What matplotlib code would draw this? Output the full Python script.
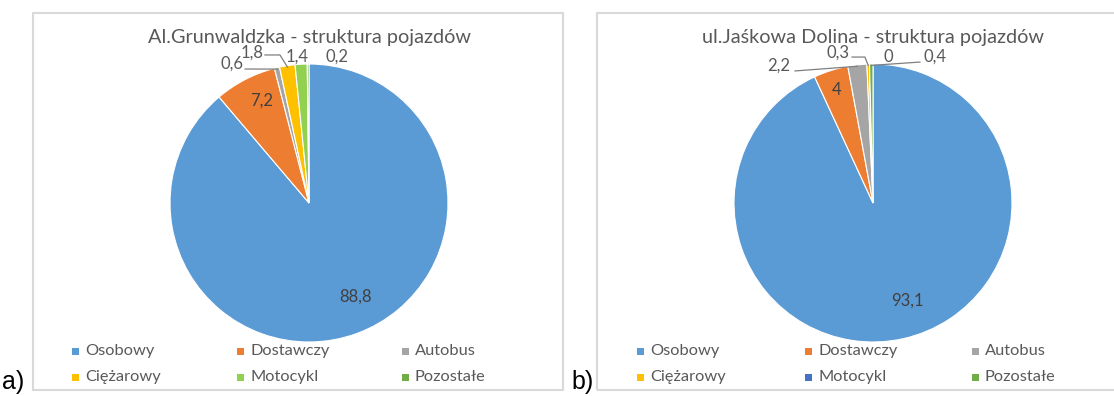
import numpy as np
import matplotlib
matplotlib.use("Agg")
import matplotlib.pyplot as plt
from matplotlib.patches import Rectangle
from matplotlib.lines import Line2D

# Vehicle structure (% share) on two streets
categories = ["Osobowy", "Dostawczy", "Autobus", "Ciężarowy", "Motocykl", "Pozostałe"]
grunwaldzka_values = [88.8, 7.2, 0.6, 1.8, 1.4, 0.2]
jaskowa_values = [93.1, 4.0, 2.2, 0.3, 0.0, 0.4]
grunwaldzka_labels = ["88,8", "7,2", "0,6", "1,8", "1,4", "0,2"]
jaskowa_labels = ["93,1", "4", "2,2", "0,3", "0", "0,4"]
title_a = "Al.Grunwaldzka - struktura pojazdów"
title_b = "ul.Jaśkowa Dolina - struktura pojazdów"

colors_a = ["#5B9BD5", "#ED7D31", "#A5A5A5", "#FFC000", "#92D050", "#70AD47"]
colors_b = ["#5B9BD5", "#ED7D31", "#A5A5A5", "#FFC000", "#4472C4", "#70AD47"]

W, H = 1114, 396
FONT = ["Lato", "DejaVu Sans"]
TXT = "#595959"

fig = plt.figure(figsize=(W / 100, H / 100), dpi=100)


def fx(x):
    return x / W


def fy(y):
    return 1 - y / H


# chart frames
for (x0, x1) in [(33, 563), (597, 1118)]:
    fig.add_artist(Rectangle((fx(x0), fy(390)), fx(x1 - x0), (390 - 13) / H,
                             transform=fig.transFigure, fill=False,
                             edgecolor="#d9d9d9", linewidth=1.5))


def wedge_mid(values, i):
    total = sum(values)
    start = sum(values[:i]) / total
    mid = start + values[i] / total / 2
    ang = np.deg2rad(90 - 360 * mid)
    return np.cos(ang), np.sin(ang)


def draw_pie(cx, cy, r, values, colors, labels, label_pos, leaders, title, legend_x):
    ax = fig.add_axes([fx(cx - r), fy(cy + r), 2 * r / W, 2 * r / H])
    ax.pie(values, colors=colors, startangle=90, counterclock=False, radius=1,
           wedgeprops=dict(edgecolor="white", linewidth=0.8))
    ax.set_xlim(-1, 1)
    ax.set_ylim(-1, 1)
    ax.set_aspect("auto")
    ax.axis("off")
    for i, (px, py) in enumerate(label_pos):
        ax.text(px, py, labels[i], ha="center", va="center", fontsize=12,
                family=FONT, color="#404040" if i < 2 else TXT, clip_on=False)
    for i, pts in leaders.items():
        mx, my = wedge_mid(values, i)
        xs = [p[0] for p in pts] + [mx * 0.99]
        ys = [p[1] for p in pts] + [my * 0.99]
        ax.add_line(Line2D(xs, ys, color="#7f7f7f", linewidth=0.9, clip_on=False))
    fig.text(fx(cx), fy(37), title, ha="center", va="center", fontsize=14.3,
             family=FONT, color=TXT)
    # legend: 3 columns x 2 rows
    for i, name in enumerate(categories):
        col, row = i % 3, i // 3
        mx = legend_x[col]
        my = 351 + 26 * row
        fig.add_artist(Rectangle((fx(mx), fy(my + 3.5)), 7 / W, 7 / H,
                                 transform=fig.transFigure, facecolor=colors[i],
                                 edgecolor="none"))
        fig.text(fx(mx + 13), fy(my), name, ha="left", va="center",
                 fontsize=11.8, family=FONT, color=TXT)


draw_pie(309, 203, 139, grunwaldzka_values, colors_a, grunwaldzka_labels,
         [(0.338, -0.676), (-0.338, 0.734), (-0.554, 1.0), (-0.41, 1.079),
          (-0.086, 1.05), (0.201, 1.05)],
         {2: [(-0.46, 0.964)], 3: [(-0.317, 1.065), (-0.209, 1.065)]},
         title_a, [72, 237, 402])

draw_pie(873, 203, 139, jaskowa_values, colors_b, jaskowa_labels,
         [(0.245, -0.705), (-0.259, 0.813), (-0.676, 0.986), (-0.252, 1.079),
          (0.108, 1.05), (0.446, 1.05)],
         {2: [(-0.561, 0.95)], 3: [(-0.151, 1.05), (-0.058, 1.05)],
          5: [(0.338, 1.014)]},
         title_b, [637, 805, 972])

fig.text(fx(2), fy(389), "a)", ha="left", va="baseline", fontsize=18,
         family=["Liberation Sans", "DejaVu Sans"], color="black")
fig.text(fx(571), fy(389), "b)", ha="left", va="baseline", fontsize=18,
         family=["Liberation Sans", "DejaVu Sans"], color="black")

fig.savefig("out.png", dpi=100)
